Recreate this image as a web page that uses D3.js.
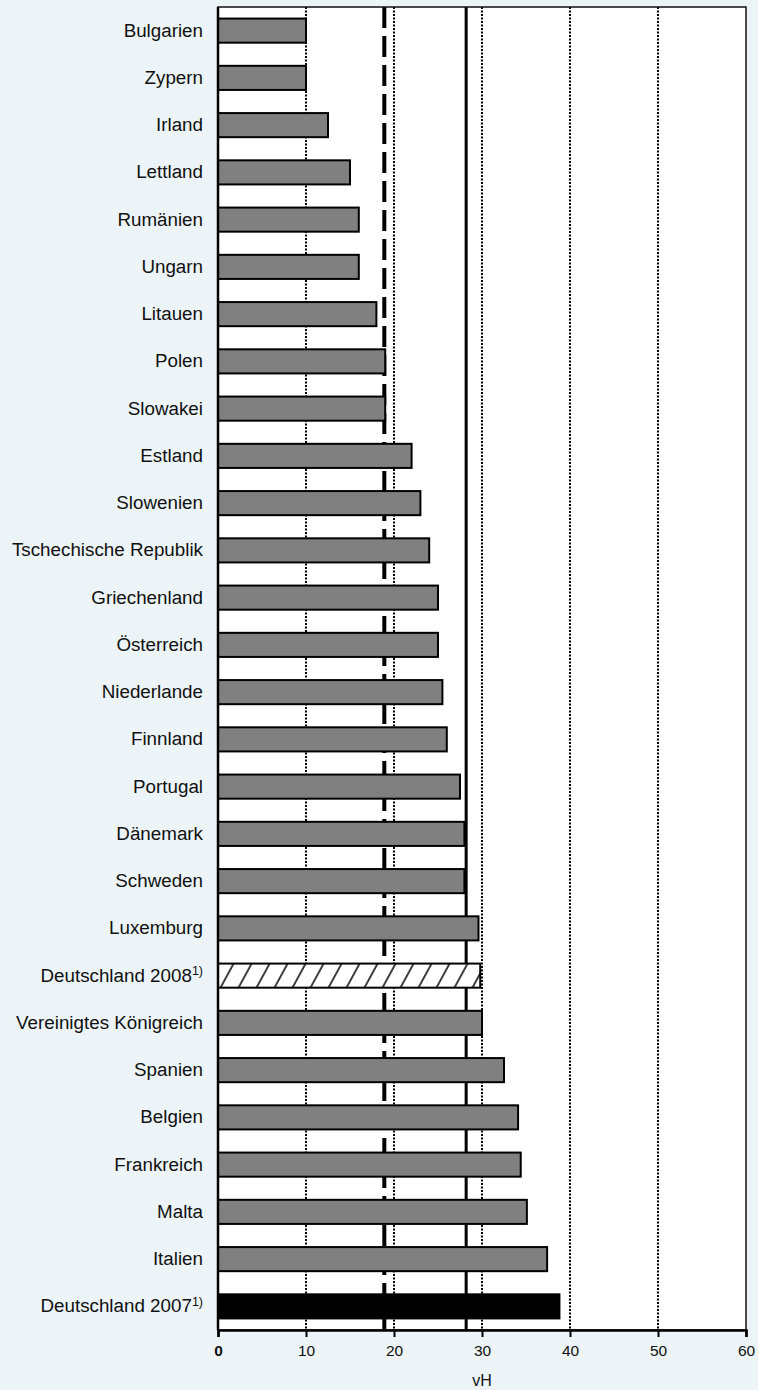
<!DOCTYPE html>
<html>
<head>
<meta charset="utf-8">
<script src="https://cdn.jsdelivr.net/npm/d3@7"></script>
<style>
  html, body { margin: 0; padding: 0; background: #ecf4f8; }
  svg { display: block; }
  text { font-family: "Liberation Sans", Arial, Helvetica, sans-serif; fill: #111; }
</style>
</head>
<body>
<svg id="chart" width="758" height="1390"></svg>
<script>
const categories = [
  "Bulgarien", "Zypern", "Irland", "Lettland", "Rumänien", "Ungarn", "Litauen",
  "Polen", "Slowakei", "Estland", "Slowenien", "Tschechische Republik",
  "Griechenland", "Österreich", "Niederlande", "Finnland", "Portugal",
  "Dänemark", "Schweden", "Luxemburg", "Deutschland 2008",
  "Vereinigtes Königreich", "Spanien", "Belgien", "Frankreich", "Malta",
  "Italien", "Deutschland 2007"
];
const values = [
  10.0, 10.0, 12.5, 15.0, 16.0, 16.0, 18.0,
  19.0, 19.0, 22.0, 23.0, 24.0,
  25.0, 25.0, 25.5, 26.0, 27.5,
  28.0, 28.0, 29.6, 29.8,
  30.0, 32.5, 34.1, 34.4, 35.1,
  37.4, 38.8
];
const barKinds = categories.map(c =>
  c === "Deutschland 2008" ? "hatched" : c === "Deutschland 2007" ? "black" : "gray");
const footnoted = ["Deutschland 2008", "Deutschland 2007"];
const footnoteMark = "1)";
const xTicks = [0, 10, 20, 30, 40, 50, 60];
const xDomain = [0, 60];
const dashedRef = 18.9;
const solidRef = 28.2;
const xTitle = "vH";

const svg = d3.select("#chart");
const pLeft = 218, pRight = 746, pTop = 7, pBottom = 1330;

const x = d3.scaleLinear().domain(xDomain).range([pLeft, pRight]);
const y = d3.scaleBand().domain(categories).range([pTop, pBottom])
  .paddingInner(0.49).paddingOuter(0.245);

// hatch pattern
const defs = svg.append("defs");
const pat = defs.append("pattern")
  .attr("id", "hatch")
  .attr("patternUnits", "userSpaceOnUse")
  .attr("width", 15.8).attr("height", 10)
  .attr("patternTransform", "translate(" + pLeft + ",0) rotate(28.6)");
pat.append("rect").attr("width", 15.8).attr("height", 10).attr("fill", "#fff");
pat.append("line").attr("x1", 1).attr("x2", 1).attr("y1", -1).attr("y2", 11)
  .attr("stroke", "#000").attr("stroke-width", 1.5);

// plot background
svg.append("rect").attr("x", pLeft).attr("y", pTop)
  .attr("width", pRight - pLeft).attr("height", pBottom - pTop).attr("fill", "#fff");

// dotted gridlines
svg.append("g").selectAll("line")
  .data(xTicks.filter(t => t > 0 && t < 60))
  .join("line")
  .attr("x1", d => x(d)).attr("x2", d => x(d))
  .attr("y1", pTop).attr("y2", pBottom)
  .attr("stroke", "#000").attr("stroke-width", 2)
  .attr("stroke-dasharray", "2,1.5");

// reference lines
svg.append("line")
  .attr("x1", x(dashedRef)).attr("x2", x(dashedRef))
  .attr("y1", pTop).attr("y2", pBottom)
  .attr("stroke", "#000").attr("stroke-width", 4)
  .attr("stroke-dasharray", "21,8");
svg.append("line")
  .attr("x1", x(solidRef)).attr("x2", x(solidRef))
  .attr("y1", pTop).attr("y2", pBottom)
  .attr("stroke", "#000").attr("stroke-width", 3);

// bars
svg.append("g").selectAll("rect")
  .data(categories)
  .join("rect")
  .attr("x", x(0))
  .attr("y", d => y(d))
  .attr("width", (d, i) => x(values[i]) - x(0))
  .attr("height", y.bandwidth())
  .attr("fill", (d, i) => barKinds[i] === "hatched" ? "url(#hatch)" : barKinds[i] === "black" ? "#000" : "#808080")
  .attr("stroke", "#000").attr("stroke-width", 2);

// frame
svg.append("rect").attr("x", pLeft).attr("y", pTop)
  .attr("width", pRight - pLeft).attr("height", pBottom - pTop)
  .attr("fill", "none").attr("stroke", "#111").attr("stroke-width", 1.5);
svg.append("line").attr("x1", pLeft).attr("x2", pLeft).attr("y1", pTop).attr("y2", pBottom)
  .attr("stroke", "#000").attr("stroke-width", 2.5);

// x axis
const xAxis = d3.axisBottom(x).tickValues(xTicks).tickSize(7).tickPadding(8)
  .tickFormat(d3.format("d"));
const gx = svg.append("g").attr("transform", "translate(0," + pBottom + ")").call(xAxis);
gx.select(".domain").attr("stroke", "#000").attr("stroke-width", 2.5);
gx.selectAll(".tick line").attr("stroke", "#000").attr("stroke-width", 2);
gx.selectAll(".tick text")
  .style("font-size", "15.5px")
  .style("font-family", "'Liberation Sans', Arial, sans-serif")
  .attr("fill", "#111")
  .style("font-weight", d => d === 0 ? "bold" : "normal");

svg.append("text")
  .attr("x", (pLeft + pRight) / 2).attr("y", 1386)
  .attr("text-anchor", "middle")
  .style("font-size", "16px")
  .text(xTitle);

// category labels
const yAxis = d3.axisLeft(y).tickSize(0).tickPadding(15);
const gy = svg.append("g").attr("transform", "translate(" + pLeft + ",0)").call(yAxis);
gy.select(".domain").remove();
gy.selectAll(".tick text")
  .style("font-size", "18.8px")
  .style("font-family", "'Liberation Sans', Arial, sans-serif")
  .attr("fill", "#111")
  .each(function(d) {
    if (footnoted.includes(d)) {
      const t = d3.select(this);
      t.text(d);
      t.append("tspan")
        .attr("dy", "-0.5em")
        .style("font-size", "12.5px")
        .text(footnoteMark);
    }
  });
</script>
</body>
</html>
